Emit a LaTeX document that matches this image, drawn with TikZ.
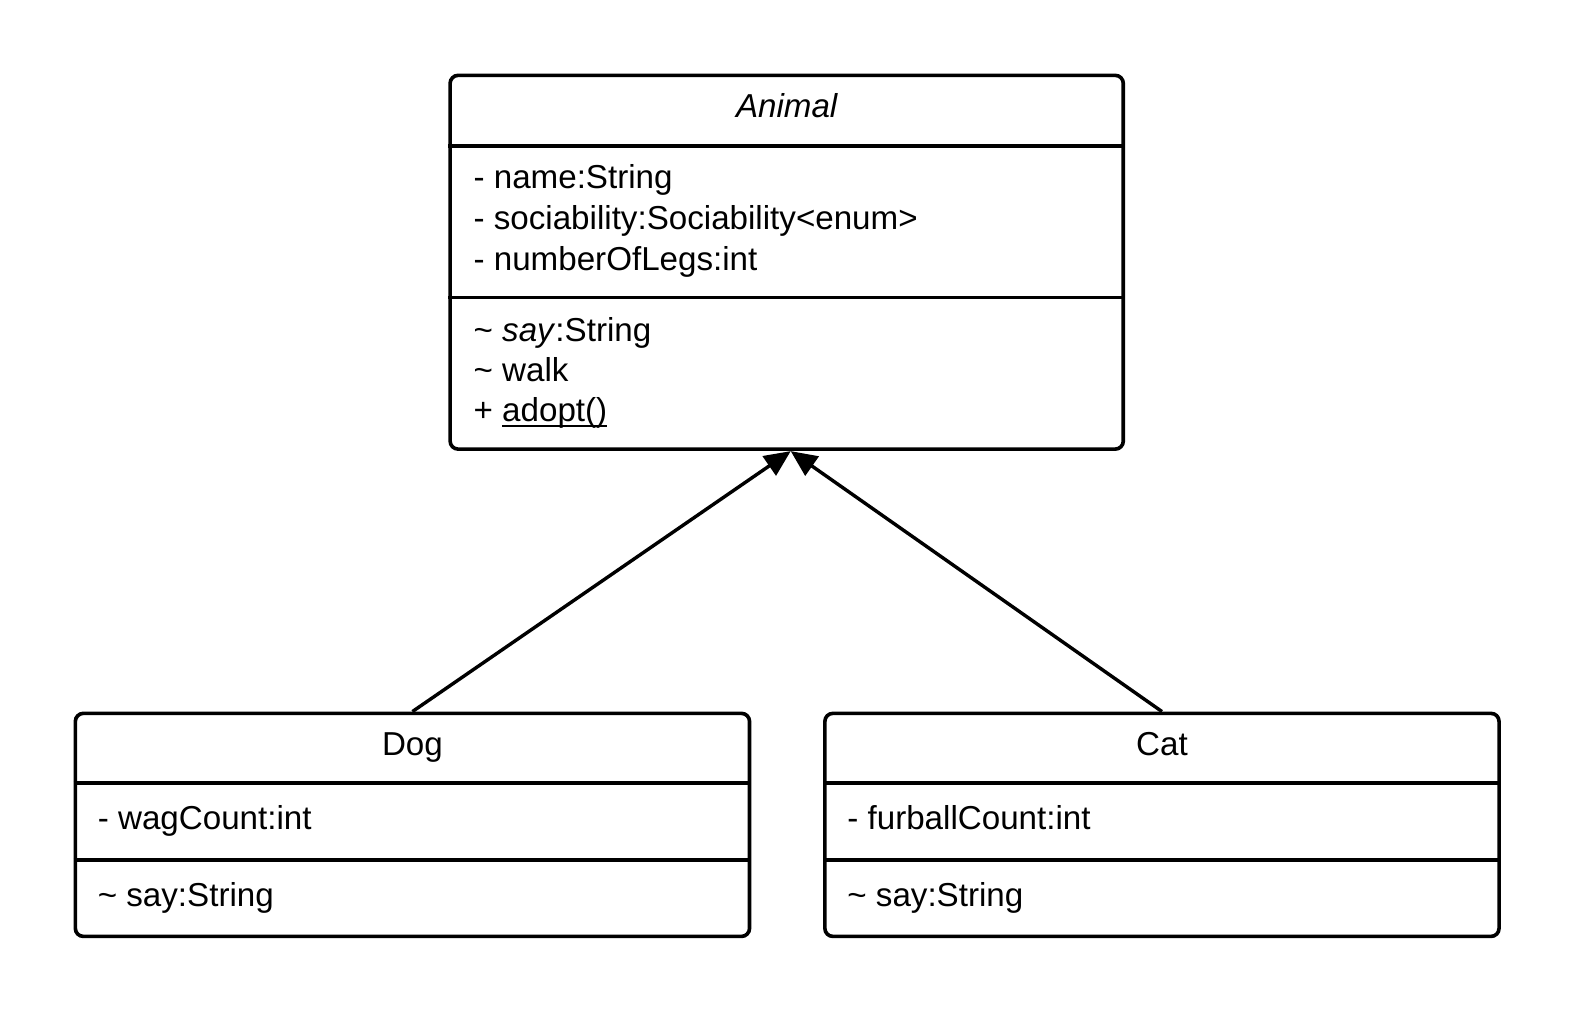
\documentclass[tikz,border=0pt]{standalone}
\usepackage{fontspec}
\setmainfont{Liberation Sans}
\usetikzlibrary{arrows.meta}
\newcommand\ulthick[1]{\setbox0\hbox{#1}\rlap{\vrule height -1.4bp depth 2.7bp width \wd0}\box0}
\begin{document}
\begin{tikzpicture}[x=0.5bp,y=-0.5bp,
  box/.style={draw,line width=1.8bp,rounded corners=4bp,minimum width=#1,inner sep=0pt},
  row/.style={anchor=base west,inner sep=0pt,font=\fontsize{16.5bp}{20bp}\selectfont},
  title/.style={anchor=base,inner sep=0pt,font=\fontsize{16.5bp}{20bp}\selectfont},
  div/.style={line width=1.8bp},
  inh/.style={line width=1.7bp,-{Triangle[length=13bp,width=11.5bp]}}]
\useasboundingbox (0,0) rectangle (1567.6,1008.3);
% boxes
\node[box=335bp,minimum height=186bp] (animal) at (783,261) {};
\node[box=335.5bp,minimum height=111bp] (dog) at (410.5,821) {};
\node[box=335.5bp,minimum height=111bp] (cat) at (1156.5,821) {};
% dividers
\draw[div] (animal.west |- {(0,145)}) -- (animal.east |- {(0,145)});
\draw[div] (animal.west |- {(0,296)}) -- (animal.east |- {(0,296)});
\draw[div] (dog.west |- {(0,779)}) -- (dog.east |- {(0,779)});
\draw[div] (dog.west |- {(0,856)}) -- (dog.east |- {(0,856)});
\draw[div] (cat.west |- {(0,779)}) -- (cat.east |- {(0,779)});
\draw[div] (cat.west |- {(0,856)}) -- (cat.east |- {(0,856)});
% Animal texts
\node[title] (tA) at (783,117) {\itshape Animal};
\node[row] (a1) at (471,188) {- name:String};
\node[row] (a2) at (471,228) {- sociability:Sociability<enum>};
\node[row] (a3) at (471,269) {- numberOfLegs:int};
\node[row] (m1) at (471,340) {\textasciitilde{} \textit{say}:String};
\node[row] (m2) at (471,380) {\textasciitilde{} walk};
\node[row] (m3) at (471,420) {+ \ulthick{adopt()}};
% Dog texts
\node[title] (tD) at (410.5,752) {Dog};
\node[row] (d1) at (97,826) {- wagCount:int};
\node[row] (d2) at (97,902) {\textasciitilde{} say:String};
% Cat texts
\node[title] (tC) at (1156.5,752) {Cat};
\node[row] (c1) at (843,826) {- furballCount:int};
\node[row] (c2) at (843,902) {\textasciitilde{} say:String};
% connectors
\coordinate (tip) at (787,449);
\draw[inh] (dog.north) -- (tip);
\draw[inh] (cat.north) -- (tip);
\end{tikzpicture}
\end{document}
